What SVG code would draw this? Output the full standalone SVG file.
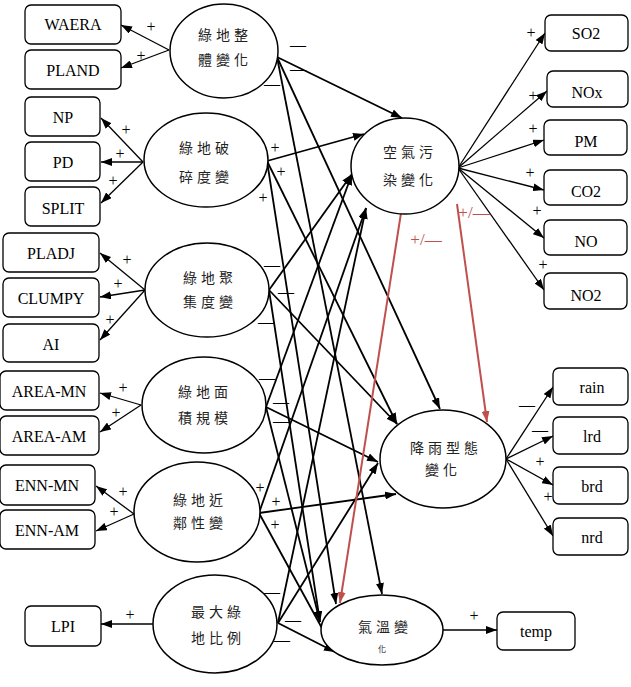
<svg xmlns="http://www.w3.org/2000/svg" width="631" height="687" viewBox="0 0 631 687">
<defs>
<marker id="ah" markerUnits="userSpaceOnUse" markerWidth="11" markerHeight="8" refX="11" refY="4" orient="auto"><path d="M0,0 L11,4 L0,8 z" fill="#000"/></marker>
<marker id="ahr" markerUnits="userSpaceOnUse" markerWidth="11" markerHeight="8" refX="11" refY="4" orient="auto"><path d="M0,0 L11,4 L0,8 z" fill="#c0504d"/></marker>
</defs>
<style>
.box{fill:#fff;stroke:#000;stroke-width:1.3}
.ell{fill:#fff;stroke:#000;stroke-width:1.5}
.bt{font-family:"Liberation Serif",serif;font-size:16px;font-weight:normal;text-anchor:middle;fill:#000}
.ct{font-family:"Noto Sans CJK TC","Noto Sans CJK SC",sans-serif;font-size:14px;text-anchor:middle;letter-spacing:4px;fill:#222}
.sg{font-family:"Liberation Serif",serif;font-size:16px;text-anchor:middle;fill:#000}
.rs{font-family:"Liberation Serif",serif;font-size:17px;text-anchor:middle;fill:#c0504d}
.thin{stroke:#000;stroke-width:1.3;fill:none;marker-end:url(#ah)}
.thick{stroke:#000;stroke-width:1.8;fill:none;marker-end:url(#ah)}
.red{stroke:#c0504d;stroke-width:2;fill:none;marker-end:url(#ahr)}
</style>

<g id="connectors">
<line class="thin" x1="169" y1="50" x2="121" y2="25"/>
<line class="thin" x1="169" y1="50" x2="121" y2="68"/>
<line class="thin" x1="143" y1="162" x2="101" y2="118"/>
<line class="thin" x1="143" y1="162" x2="101" y2="162"/>
<line class="thin" x1="143" y1="162" x2="101" y2="203"/>
<line class="thin" x1="145" y1="290" x2="100" y2="253"/>
<line class="thin" x1="145" y1="290" x2="100" y2="297"/>
<line class="thin" x1="145" y1="290" x2="100" y2="340"/>
<line class="thin" x1="141" y1="405" x2="100" y2="393"/>
<line class="thin" x1="141" y1="405" x2="100" y2="432"/>
<line class="thin" x1="134" y1="514" x2="96" y2="486"/>
<line class="thin" x1="134" y1="514" x2="96" y2="531"/>
<line class="thin" x1="153" y1="624" x2="101" y2="624"/>
<line class="thin" x1="458" y1="168" x2="545" y2="33"/>
<line class="thin" x1="458" y1="168" x2="547" y2="91"/>
<line class="thin" x1="458" y1="168" x2="544" y2="140"/>
<line class="thin" x1="458" y1="168" x2="544" y2="190"/>
<line class="thin" x1="458" y1="168" x2="544" y2="238"/>
<line class="thin" x1="458" y1="168" x2="544" y2="290"/>
<line class="thin" x1="506" y1="459" x2="553" y2="387"/>
<line class="thin" x1="506" y1="459" x2="553" y2="436"/>
<line class="thin" x1="506" y1="459" x2="553" y2="485"/>
<line class="thin" x1="506" y1="459" x2="553" y2="536"/>
<line class="thin" x1="443" y1="630" x2="497" y2="630"/>
<line class="thick" x1="277" y1="57" x2="402" y2="118"/>
<line class="thick" x1="277" y1="57" x2="440" y2="409"/>
<line class="thick" x1="277" y1="57" x2="382" y2="594"/>
<line class="thick" x1="267" y1="161" x2="364" y2="134"/>
<line class="thick" x1="267" y1="161" x2="397" y2="424"/>
<line class="thick" x1="267" y1="161" x2="336" y2="604"/>
<line class="thick" x1="269" y1="290" x2="352" y2="174"/>
<line class="thick" x1="269" y1="290" x2="397" y2="424"/>
<line class="thick" x1="269" y1="290" x2="320" y2="622"/>
<line class="thick" x1="266" y1="407" x2="352" y2="174"/>
<line class="thick" x1="266" y1="407" x2="378" y2="462"/>
<line class="thick" x1="266" y1="407" x2="320" y2="622"/>
<line class="thick" x1="259" y1="513" x2="366" y2="208"/>
<line class="thick" x1="259" y1="513" x2="396" y2="494"/>
<line class="thick" x1="259" y1="513" x2="335" y2="652"/>
<line class="thick" x1="278" y1="623" x2="366" y2="208"/>
<line class="thick" x1="278" y1="623" x2="378" y2="463"/>
<line class="thick" x1="278" y1="623" x2="335" y2="652"/>
<line class="red" x1="401" y1="213" x2="340" y2="603"/>
<line class="red" x1="457" y1="204" x2="487" y2="422"/>
</g>

<g id="signs">
<text class="sg" x="151" y="32">+</text>
<text class="sg" x="141" y="61">+</text>
<text class="sg" x="126" y="135">+</text>
<text class="sg" x="120" y="159">+</text>
<text class="sg" x="113" y="186">+</text>
<text class="sg" x="127" y="265">+</text>
<text class="sg" x="118" y="289">+</text>
<text class="sg" x="110" y="325">+</text>
<text class="sg" x="123" y="393">+</text>
<text class="sg" x="116" y="418">+</text>
<text class="sg" x="123" y="497">+</text>
<text class="sg" x="114" y="517">+</text>
<text class="sg" x="130" y="620">+</text>
<text class="sg" x="531" y="38">+</text>
<text class="sg" x="533" y="101">+</text>
<text class="sg" x="533" y="134">+</text>
<text class="sg" x="530" y="178">+</text>
<text class="sg" x="537" y="216">+</text>
<text class="sg" x="543" y="270">+</text>
<text class="sg" x="527" y="410">—</text>
<text class="sg" x="540" y="435">—</text>
<text class="sg" x="540" y="467">+</text>
<text class="sg" x="548" y="502">+</text>
<text class="sg" x="474" y="621">+</text>
<text class="sg" x="298" y="50">—</text>
<text class="sg" x="298" y="74">—</text>
<text class="sg" x="272" y="89">—</text>
<text class="sg" x="275" y="153">+</text>
<text class="sg" x="281" y="177">+</text>
<text class="sg" x="263" y="203">+</text>
<text class="sg" x="272" y="270">—</text>
<text class="sg" x="286" y="297">—</text>
<text class="sg" x="266" y="327">—</text>
<text class="sg" x="267" y="383">—</text>
<text class="sg" x="281" y="407">—</text>
<text class="sg" x="281" y="426">—</text>
<text class="sg" x="260" y="493">+</text>
<text class="sg" x="276" y="507">+</text>
<text class="sg" x="275" y="530">+</text>
<text class="sg" x="272" y="597">—</text>
<text class="sg" x="293" y="625">—</text>
<text class="sg" x="282" y="645">—</text>
<text class="rs" x="426" y="245">+/—</text>
<text class="rs" x="474" y="218">+/—</text>
</g>

<g id="n-waera"><rect class="box" x="25" y="5" width="96" height="39" rx="6"/><text class="bt" x="73" y="30">WAERA</text></g>
<g id="n-pland"><rect class="box" x="25" y="50" width="96" height="39" rx="6"/><text class="bt" x="73" y="76">PLAND</text></g>
<g id="n-np"><rect class="box" x="25" y="97" width="75" height="39" rx="6"/><text class="bt" x="63" y="123">NP</text></g>
<g id="n-pd"><rect class="box" x="25" y="142" width="75" height="39" rx="6"/><text class="bt" x="63" y="168">PD</text></g>
<g id="n-split"><rect class="box" x="25" y="187" width="75" height="39" rx="6"/><text class="bt" x="63" y="214">SPLIT</text></g>
<g id="n-pladj"><rect class="box" x="3" y="233" width="96" height="39" rx="6"/><text class="bt" x="51" y="259">PLADJ</text></g>
<g id="n-clumpy"><rect class="box" x="3" y="278" width="96" height="39" rx="6"/><text class="bt" x="51" y="304">CLUMPY</text></g>
<g id="n-ai"><rect class="box" x="3" y="324" width="96" height="38" rx="6"/><text class="bt" x="51" y="350">AI</text></g>
<g id="n-areamn"><rect class="box" x="0" y="371" width="99" height="39" rx="6"/><text class="bt" x="49" y="397">AREA-MN</text></g>
<g id="n-areaam"><rect class="box" x="0" y="416" width="99" height="39" rx="6"/><text class="bt" x="49" y="442">AREA-AM</text></g>
<g id="n-ennmn"><rect class="box" x="0" y="465" width="95" height="40" rx="6"/><text class="bt" x="47" y="491">ENN-MN</text></g>
<g id="n-ennam"><rect class="box" x="0" y="510" width="95" height="39" rx="6"/><text class="bt" x="47" y="536">ENN-AM</text></g>
<g id="n-lpi"><rect class="box" x="25" y="606" width="76" height="40" rx="6"/><text class="bt" x="63" y="632">LPI</text></g>

<g id="n-so2"><rect class="box" x="545" y="15" width="83" height="36" rx="6"/><text class="bt" x="586" y="39">SO2</text></g>
<g id="n-nox"><rect class="box" x="547" y="71" width="81" height="36" rx="6"/><text class="bt" x="587" y="98">NOx</text></g>
<g id="n-pm"><rect class="box" x="544" y="120" width="83" height="35" rx="6"/><text class="bt" x="586" y="147">PM</text></g>
<g id="n-co2"><rect class="box" x="544" y="170" width="83" height="35" rx="6"/><text class="bt" x="586" y="197">CO2</text></g>
<g id="n-no"><rect class="box" x="544" y="220" width="83" height="35" rx="6"/><text class="bt" x="586" y="247">NO</text></g>
<g id="n-no2"><rect class="box" x="544" y="273" width="83" height="36" rx="6"/><text class="bt" x="586" y="301">NO2</text></g>
<g id="n-rain"><rect class="box" x="553" y="368" width="75" height="37" rx="6"/><text class="bt" x="592" y="393">rain</text></g>
<g id="n-lrd"><rect class="box" x="553" y="417" width="75" height="37" rx="6"/><text class="bt" x="592" y="442">lrd</text></g>
<g id="n-brd"><rect class="box" x="553" y="467" width="75" height="37" rx="6"/><text class="bt" x="592" y="492">brd</text></g>
<g id="n-nrd"><rect class="box" x="553" y="518" width="75" height="37" rx="6"/><text class="bt" x="592" y="543">nrd</text></g>
<g id="n-temp"><rect class="box" x="497" y="612" width="78" height="38" rx="6"/><text class="bt" x="536" y="637">temp</text></g>

<g id="e-overall"><ellipse class="ell" cx="224" cy="51" rx="54" ry="47"/><text class="ct" x="225" y="40">綠地整</text><text class="ct" x="225" y="65">體變化</text></g>
<g id="e-frag"><ellipse class="ell" cx="206" cy="160" rx="62" ry="47"/><text class="ct" x="206" y="153">綠地破</text><text class="ct" x="206" y="182">碎度變</text></g>
<g id="e-aggr"><ellipse class="ell" cx="207" cy="290" rx="62" ry="47"/><text class="ct" x="210" y="283">綠地聚</text><text class="ct" x="210" y="307">集度變</text></g>
<g id="e-area"><ellipse class="ell" cx="204" cy="405" rx="62" ry="48"/><text class="ct" x="205" y="397">綠地面</text><text class="ct" x="205" y="423">積規模</text></g>
<g id="e-prox"><ellipse class="ell" cx="197" cy="512" rx="63" ry="50"/><text class="ct" x="200" y="505">綠地近</text><text class="ct" x="200" y="528">鄰性變</text></g>
<g id="e-lpi"><ellipse class="ell" cx="215" cy="624" rx="62" ry="49"/><text class="ct" x="218" y="617">最大綠</text><text class="ct" x="218" y="643">地比例</text></g>
<g id="e-air"><ellipse class="ell" cx="405" cy="166" rx="54" ry="48"/><text class="ct" x="410" y="157">空氣污</text><text class="ct" x="410" y="185">染變化</text></g>
<g id="e-rain"><ellipse class="ell" cx="443" cy="459" rx="63" ry="49"/><text class="ct" x="446" y="453">降雨型態</text><text class="ct" x="443" y="475">變化</text></g>
<g id="e-temp"><ellipse class="ell" cx="382" cy="630" rx="61" ry="35"/><text class="ct" x="385" y="632">氣溫變</text><text class="ct" x="382" y="652" style="font-size:8px;letter-spacing:0">化</text></g>
</svg>
